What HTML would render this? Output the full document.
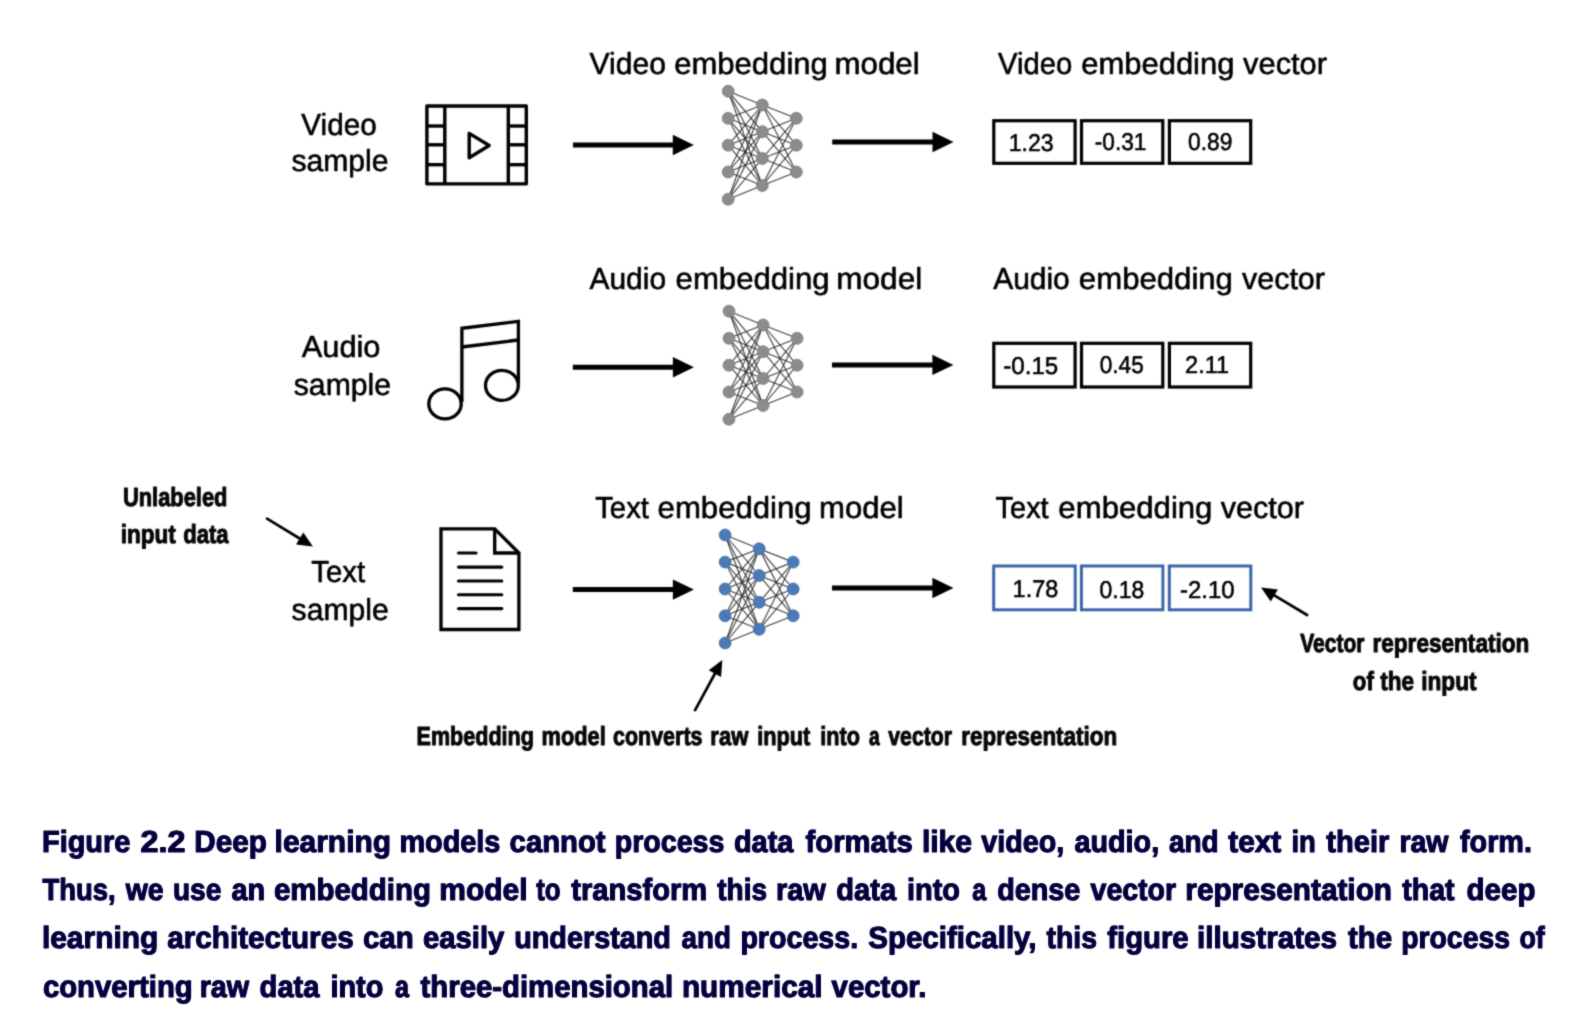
<!DOCTYPE html>
<html><head><meta charset="utf-8"><title>Figure 2.2</title>
<style>html,body{margin:0;padding:0;background:#fff;}body{width:1578px;height:1018px;overflow:hidden;font-family:"Liberation Sans",sans-serif;}svg{display:block;will-change:transform}text{text-rendering:geometricPrecision}</style>
</head><body>
<svg width="1578" height="1018" viewBox="0 0 1578 1018" font-family="Liberation Sans, sans-serif">
<rect width="1578" height="1018" fill="#fff"/>
<defs><filter id="b1" x="0" y="0" width="1578" height="780" filterUnits="userSpaceOnUse" color-interpolation-filters="sRGB"><feConvolveMatrix order="5" kernelMatrix="0.00001 0.00062 0.00227 0.00062 0.00001 0.00062 0.03065 0.11253 0.03065 0.00062 0.00227 0.11253 0.41321 0.11253 0.00227 0.00062 0.03065 0.11253 0.03065 0.00062 0.00001 0.00062 0.00227 0.00062 0.00001" edgeMode="duplicate"/></filter><filter id="b2" x="0" y="780" width="1578" height="238" filterUnits="userSpaceOnUse" color-interpolation-filters="sRGB"><feConvolveMatrix order="5" kernelMatrix="0.00000 0.00013 0.00070 0.00013 0.00000 0.00013 0.01910 0.09973 0.01910 0.00013 0.00070 0.09973 0.52080 0.09973 0.00070 0.00013 0.01910 0.09973 0.01910 0.00013 0.00000 0.00013 0.00070 0.00013 0.00000" edgeMode="duplicate"/></filter></defs>
<g filter="url(#b1)">
<text x="589.60" y="74" font-size="30.4" font-weight="400" fill="#000" textLength="76.39" lengthAdjust="spacingAndGlyphs" stroke="#000" stroke-width="0.6" stroke-linejoin="round">Video</text>
<text x="674.18" y="74" font-size="30.4" font-weight="400" fill="#000" textLength="153.67" lengthAdjust="spacingAndGlyphs" stroke="#000" stroke-width="0.6" stroke-linejoin="round">embedding</text>
<text x="834.44" y="74" font-size="30.4" font-weight="400" fill="#000" textLength="85.26" lengthAdjust="spacingAndGlyphs" stroke="#000" stroke-width="0.6" stroke-linejoin="round">model</text>
<text x="998.10" y="74" font-size="30.4" font-weight="400" fill="#000" textLength="74.17" lengthAdjust="spacingAndGlyphs" stroke="#000" stroke-width="0.6" stroke-linejoin="round">Video</text>
<text x="1081.28" y="74" font-size="30.4" font-weight="400" fill="#000" textLength="153.16" lengthAdjust="spacingAndGlyphs" stroke="#000" stroke-width="0.6" stroke-linejoin="round">embedding</text>
<text x="1243.10" y="74" font-size="30.4" font-weight="400" fill="#000" textLength="83.92" lengthAdjust="spacingAndGlyphs" stroke="#000" stroke-width="0.6" stroke-linejoin="round">vector</text>
<text x="301.30" y="135" font-size="30.4" font-weight="400" fill="#000" textLength="75.38" lengthAdjust="spacingAndGlyphs" stroke="#000" stroke-width="0.6" stroke-linejoin="round">Video</text>
<text x="291.40" y="171" font-size="30.4" font-weight="400" fill="#000" textLength="97.09" lengthAdjust="spacingAndGlyphs" stroke="#000" stroke-width="0.6" stroke-linejoin="round">sample</text>
<g fill="none" stroke="#000" stroke-width="3.4" stroke-linejoin="round" transform="translate(0.2,0.4)">
<rect x="426.7" y="105.6" width="99.4" height="77.9"/>
<line x1="444.6" y1="105.6" x2="444.6" y2="183.5"/>
<line x1="508.1" y1="105.6" x2="508.1" y2="183.5"/>
<line x1="426.7" y1="125.6" x2="444.6" y2="125.6"/>
<line x1="508.1" y1="125.6" x2="526.1" y2="125.6"/>
<line x1="426.7" y1="144.4" x2="444.6" y2="144.4"/>
<line x1="508.1" y1="144.4" x2="526.1" y2="144.4"/>
<line x1="426.7" y1="164.3" x2="444.6" y2="164.3"/>
<line x1="508.1" y1="164.3" x2="526.1" y2="164.3"/>
<polygon points="469,133 469,157.3 489,145.1"/>
</g>
<line x1="573" y1="145" x2="673.8" y2="145" stroke="#000" stroke-width="5"/>
<polygon points="672.8,134.8 693.8,145 672.8,155.2" fill="#000"/>
<g transform="translate(0,0)">
<g stroke="#222" stroke-width="1.15" stroke-opacity="0.85">
<line x1="728.2" y1="91.2" x2="762.3" y2="105.0"/>
<line x1="728.2" y1="91.2" x2="762.3" y2="131.7"/>
<line x1="728.2" y1="91.2" x2="762.3" y2="158.5"/>
<line x1="728.2" y1="91.2" x2="762.3" y2="185.5"/>
<line x1="728.2" y1="118.3" x2="762.3" y2="105.0"/>
<line x1="728.2" y1="118.3" x2="762.3" y2="131.7"/>
<line x1="728.2" y1="118.3" x2="762.3" y2="158.5"/>
<line x1="728.2" y1="118.3" x2="762.3" y2="185.5"/>
<line x1="728.2" y1="145.2" x2="762.3" y2="105.0"/>
<line x1="728.2" y1="145.2" x2="762.3" y2="131.7"/>
<line x1="728.2" y1="145.2" x2="762.3" y2="158.5"/>
<line x1="728.2" y1="145.2" x2="762.3" y2="185.5"/>
<line x1="728.2" y1="172.0" x2="762.3" y2="105.0"/>
<line x1="728.2" y1="172.0" x2="762.3" y2="131.7"/>
<line x1="728.2" y1="172.0" x2="762.3" y2="158.5"/>
<line x1="728.2" y1="172.0" x2="762.3" y2="185.5"/>
<line x1="728.2" y1="199.2" x2="762.3" y2="105.0"/>
<line x1="728.2" y1="199.2" x2="762.3" y2="131.7"/>
<line x1="728.2" y1="199.2" x2="762.3" y2="158.5"/>
<line x1="728.2" y1="199.2" x2="762.3" y2="185.5"/>
<line x1="762.3" y1="105.0" x2="796.3" y2="118.3"/>
<line x1="762.3" y1="105.0" x2="796.3" y2="145.2"/>
<line x1="762.3" y1="105.0" x2="796.3" y2="172.0"/>
<line x1="762.3" y1="131.7" x2="796.3" y2="118.3"/>
<line x1="762.3" y1="131.7" x2="796.3" y2="145.2"/>
<line x1="762.3" y1="131.7" x2="796.3" y2="172.0"/>
<line x1="762.3" y1="158.5" x2="796.3" y2="118.3"/>
<line x1="762.3" y1="158.5" x2="796.3" y2="145.2"/>
<line x1="762.3" y1="158.5" x2="796.3" y2="172.0"/>
<line x1="762.3" y1="185.5" x2="796.3" y2="118.3"/>
<line x1="762.3" y1="185.5" x2="796.3" y2="145.2"/>
<line x1="762.3" y1="185.5" x2="796.3" y2="172.0"/>
</g>
<circle cx="728.2" cy="91.2" r="5.95" fill="#8c8c8c" stroke="#7a7a7a" stroke-width="0.8"/>
<circle cx="728.2" cy="118.3" r="5.95" fill="#8c8c8c" stroke="#7a7a7a" stroke-width="0.8"/>
<circle cx="728.2" cy="145.2" r="5.95" fill="#8c8c8c" stroke="#7a7a7a" stroke-width="0.8"/>
<circle cx="728.2" cy="172.0" r="5.95" fill="#8c8c8c" stroke="#7a7a7a" stroke-width="0.8"/>
<circle cx="728.2" cy="199.2" r="5.95" fill="#8c8c8c" stroke="#7a7a7a" stroke-width="0.8"/>
<circle cx="762.3" cy="105.0" r="5.95" fill="#8c8c8c" stroke="#7a7a7a" stroke-width="0.8"/>
<circle cx="762.3" cy="131.7" r="5.95" fill="#8c8c8c" stroke="#7a7a7a" stroke-width="0.8"/>
<circle cx="762.3" cy="158.5" r="5.95" fill="#8c8c8c" stroke="#7a7a7a" stroke-width="0.8"/>
<circle cx="762.3" cy="185.5" r="5.95" fill="#8c8c8c" stroke="#7a7a7a" stroke-width="0.8"/>
<circle cx="796.3" cy="118.3" r="5.95" fill="#8c8c8c" stroke="#7a7a7a" stroke-width="0.8"/>
<circle cx="796.3" cy="145.2" r="5.95" fill="#8c8c8c" stroke="#7a7a7a" stroke-width="0.8"/>
<circle cx="796.3" cy="172.0" r="5.95" fill="#8c8c8c" stroke="#7a7a7a" stroke-width="0.8"/>
</g>
<line x1="832.2" y1="142" x2="933.5" y2="142" stroke="#000" stroke-width="5"/>
<polygon points="932.5,131.8 953.5,142 932.5,152.2" fill="#000"/>
<rect x="993.80" y="120.70" width="81.30" height="42.60" fill="#fff" stroke="#000" stroke-width="3.2"/>
<rect x="1081.50" y="120.70" width="81.30" height="42.60" fill="#fff" stroke="#000" stroke-width="3.2"/>
<rect x="1169.40" y="120.70" width="81.30" height="42.60" fill="#fff" stroke="#000" stroke-width="3.2"/>
<text x="1008.72" y="151" font-size="24.2" font-weight="400" fill="#000" textLength="44.94" lengthAdjust="spacingAndGlyphs" stroke="#000" stroke-width="0.55" stroke-linejoin="round">1.23</text>
<text x="1094.74" y="149.7" font-size="24.2" font-weight="400" fill="#000" textLength="51.71" lengthAdjust="spacingAndGlyphs" stroke="#000" stroke-width="0.55" stroke-linejoin="round">-0.31</text>
<text x="1187.98" y="149.7" font-size="24.2" font-weight="400" fill="#000" textLength="44.38" lengthAdjust="spacingAndGlyphs" stroke="#000" stroke-width="0.55" stroke-linejoin="round">0.89</text>
<text x="589.50" y="289" font-size="30.4" font-weight="400" fill="#000" textLength="76.59" lengthAdjust="spacingAndGlyphs" stroke="#000" stroke-width="0.6" stroke-linejoin="round">Audio</text>
<text x="675.58" y="289" font-size="30.4" font-weight="400" fill="#000" textLength="154.07" lengthAdjust="spacingAndGlyphs" stroke="#000" stroke-width="0.6" stroke-linejoin="round">embedding</text>
<text x="836.32" y="289" font-size="30.4" font-weight="400" fill="#000" textLength="85.89" lengthAdjust="spacingAndGlyphs" stroke="#000" stroke-width="0.6" stroke-linejoin="round">model</text>
<text x="993.20" y="289" font-size="30.4" font-weight="400" fill="#000" textLength="76.59" lengthAdjust="spacingAndGlyphs" stroke="#000" stroke-width="0.6" stroke-linejoin="round">Audio</text>
<text x="1078.88" y="289" font-size="30.4" font-weight="400" fill="#000" textLength="154.07" lengthAdjust="spacingAndGlyphs" stroke="#000" stroke-width="0.6" stroke-linejoin="round">embedding</text>
<text x="1241.90" y="289" font-size="30.4" font-weight="400" fill="#000" textLength="83.12" lengthAdjust="spacingAndGlyphs" stroke="#000" stroke-width="0.6" stroke-linejoin="round">vector</text>
<text x="301.80" y="357" font-size="30.4" font-weight="400" fill="#000" textLength="78.61" lengthAdjust="spacingAndGlyphs" stroke="#000" stroke-width="0.6" stroke-linejoin="round">Audio</text>
<text x="293.80" y="395" font-size="30.4" font-weight="400" fill="#000" textLength="97.19" lengthAdjust="spacingAndGlyphs" stroke="#000" stroke-width="0.6" stroke-linejoin="round">sample</text>
<g fill="none" stroke="#000" stroke-width="3.3" stroke-linejoin="miter">
<polyline points="461.9,402 461.9,328.3 518.4,321.3 518.4,383.5"/>
<line x1="461.9" y1="347" x2="518.4" y2="340"/>
<ellipse cx="445.0" cy="403.9" rx="16.2" ry="15"/>
<ellipse cx="501.9" cy="385.4" rx="16.4" ry="15"/>
</g>
<line x1="572.8" y1="367.3" x2="673.9" y2="367.3" stroke="#000" stroke-width="5"/>
<polygon points="672.9,357.1 693.9,367.3 672.9,377.5" fill="#000"/>
<g transform="translate(0.8,220)">
<g stroke="#222" stroke-width="1.15" stroke-opacity="0.85">
<line x1="728.2" y1="91.2" x2="762.3" y2="105.0"/>
<line x1="728.2" y1="91.2" x2="762.3" y2="131.7"/>
<line x1="728.2" y1="91.2" x2="762.3" y2="158.5"/>
<line x1="728.2" y1="91.2" x2="762.3" y2="185.5"/>
<line x1="728.2" y1="118.3" x2="762.3" y2="105.0"/>
<line x1="728.2" y1="118.3" x2="762.3" y2="131.7"/>
<line x1="728.2" y1="118.3" x2="762.3" y2="158.5"/>
<line x1="728.2" y1="118.3" x2="762.3" y2="185.5"/>
<line x1="728.2" y1="145.2" x2="762.3" y2="105.0"/>
<line x1="728.2" y1="145.2" x2="762.3" y2="131.7"/>
<line x1="728.2" y1="145.2" x2="762.3" y2="158.5"/>
<line x1="728.2" y1="145.2" x2="762.3" y2="185.5"/>
<line x1="728.2" y1="172.0" x2="762.3" y2="105.0"/>
<line x1="728.2" y1="172.0" x2="762.3" y2="131.7"/>
<line x1="728.2" y1="172.0" x2="762.3" y2="158.5"/>
<line x1="728.2" y1="172.0" x2="762.3" y2="185.5"/>
<line x1="728.2" y1="199.2" x2="762.3" y2="105.0"/>
<line x1="728.2" y1="199.2" x2="762.3" y2="131.7"/>
<line x1="728.2" y1="199.2" x2="762.3" y2="158.5"/>
<line x1="728.2" y1="199.2" x2="762.3" y2="185.5"/>
<line x1="762.3" y1="105.0" x2="796.3" y2="118.3"/>
<line x1="762.3" y1="105.0" x2="796.3" y2="145.2"/>
<line x1="762.3" y1="105.0" x2="796.3" y2="172.0"/>
<line x1="762.3" y1="131.7" x2="796.3" y2="118.3"/>
<line x1="762.3" y1="131.7" x2="796.3" y2="145.2"/>
<line x1="762.3" y1="131.7" x2="796.3" y2="172.0"/>
<line x1="762.3" y1="158.5" x2="796.3" y2="118.3"/>
<line x1="762.3" y1="158.5" x2="796.3" y2="145.2"/>
<line x1="762.3" y1="158.5" x2="796.3" y2="172.0"/>
<line x1="762.3" y1="185.5" x2="796.3" y2="118.3"/>
<line x1="762.3" y1="185.5" x2="796.3" y2="145.2"/>
<line x1="762.3" y1="185.5" x2="796.3" y2="172.0"/>
</g>
<circle cx="728.2" cy="91.2" r="5.95" fill="#8c8c8c" stroke="#7a7a7a" stroke-width="0.8"/>
<circle cx="728.2" cy="118.3" r="5.95" fill="#8c8c8c" stroke="#7a7a7a" stroke-width="0.8"/>
<circle cx="728.2" cy="145.2" r="5.95" fill="#8c8c8c" stroke="#7a7a7a" stroke-width="0.8"/>
<circle cx="728.2" cy="172.0" r="5.95" fill="#8c8c8c" stroke="#7a7a7a" stroke-width="0.8"/>
<circle cx="728.2" cy="199.2" r="5.95" fill="#8c8c8c" stroke="#7a7a7a" stroke-width="0.8"/>
<circle cx="762.3" cy="105.0" r="5.95" fill="#8c8c8c" stroke="#7a7a7a" stroke-width="0.8"/>
<circle cx="762.3" cy="131.7" r="5.95" fill="#8c8c8c" stroke="#7a7a7a" stroke-width="0.8"/>
<circle cx="762.3" cy="158.5" r="5.95" fill="#8c8c8c" stroke="#7a7a7a" stroke-width="0.8"/>
<circle cx="762.3" cy="185.5" r="5.95" fill="#8c8c8c" stroke="#7a7a7a" stroke-width="0.8"/>
<circle cx="796.3" cy="118.3" r="5.95" fill="#8c8c8c" stroke="#7a7a7a" stroke-width="0.8"/>
<circle cx="796.3" cy="145.2" r="5.95" fill="#8c8c8c" stroke="#7a7a7a" stroke-width="0.8"/>
<circle cx="796.3" cy="172.0" r="5.95" fill="#8c8c8c" stroke="#7a7a7a" stroke-width="0.8"/>
</g>
<line x1="832" y1="364.9" x2="933.4" y2="364.9" stroke="#000" stroke-width="5"/>
<polygon points="932.4,354.7 953.4,364.9 932.4,375.09999999999997" fill="#000"/>
<rect x="993.80" y="343.30" width="81.30" height="43.70" fill="#fff" stroke="#000" stroke-width="3.2"/>
<rect x="1081.50" y="343.30" width="81.30" height="43.70" fill="#fff" stroke="#000" stroke-width="3.2"/>
<rect x="1169.40" y="343.30" width="81.30" height="43.70" fill="#fff" stroke="#000" stroke-width="3.2"/>
<text x="1003.18" y="374.1" font-size="24.2" font-weight="400" fill="#000" textLength="55.10" lengthAdjust="spacingAndGlyphs" stroke="#000" stroke-width="0.55" stroke-linejoin="round">-0.15</text>
<text x="1099.78" y="373.2" font-size="24.2" font-weight="400" fill="#000" textLength="43.97" lengthAdjust="spacingAndGlyphs" stroke="#000" stroke-width="0.55" stroke-linejoin="round">0.45</text>
<text x="1185.10" y="373.2" font-size="24.2" font-weight="400" fill="#000" textLength="44.06" lengthAdjust="spacingAndGlyphs" stroke="#000" stroke-width="0.55" stroke-linejoin="round">2.11</text>
<text x="595.20" y="518" font-size="30.4" font-weight="400" fill="#000" textLength="53.76" lengthAdjust="spacingAndGlyphs" stroke="#000" stroke-width="0.6" stroke-linejoin="round">Text</text>
<text x="657.58" y="518" font-size="30.4" font-weight="400" fill="#000" textLength="154.07" lengthAdjust="spacingAndGlyphs" stroke="#000" stroke-width="0.6" stroke-linejoin="round">embedding</text>
<text x="819.05" y="518" font-size="30.4" font-weight="400" fill="#000" textLength="84.64" lengthAdjust="spacingAndGlyphs" stroke="#000" stroke-width="0.6" stroke-linejoin="round">model</text>
<text x="995.60" y="518" font-size="30.4" font-weight="400" fill="#000" textLength="53.07" lengthAdjust="spacingAndGlyphs" stroke="#000" stroke-width="0.6" stroke-linejoin="round">Text</text>
<text x="1058.38" y="518" font-size="30.4" font-weight="400" fill="#000" textLength="154.07" lengthAdjust="spacingAndGlyphs" stroke="#000" stroke-width="0.6" stroke-linejoin="round">embedding</text>
<text x="1220.70" y="518" font-size="30.4" font-weight="400" fill="#000" textLength="83.32" lengthAdjust="spacingAndGlyphs" stroke="#000" stroke-width="0.6" stroke-linejoin="round">vector</text>
<text x="311.30" y="582" font-size="30.4" font-weight="400" fill="#000" textLength="53.86" lengthAdjust="spacingAndGlyphs" stroke="#000" stroke-width="0.6" stroke-linejoin="round">Text</text>
<text x="291.60" y="620" font-size="30.4" font-weight="400" fill="#000" textLength="97.09" lengthAdjust="spacingAndGlyphs" stroke="#000" stroke-width="0.6" stroke-linejoin="round">sample</text>
<g fill="none" stroke="#000" stroke-width="3.3" stroke-linejoin="miter">
<polygon points="441,528.8 494.7,528.8 518.9,553 518.9,629.5 441,629.5"/>
<polyline points="494.7,528.8 494.7,553 518.9,553"/>
</g>
<g fill="none" stroke="#000" stroke-width="3.1" stroke-linecap="round">
<line x1="458.5" y1="553" x2="476" y2="553"/>
<line x1="458.5" y1="567.1" x2="501.8" y2="567.1"/>
<line x1="458.5" y1="581" x2="501.8" y2="581"/>
<line x1="458.5" y1="594.8" x2="501.8" y2="594.8"/>
<line x1="458.5" y1="608.6" x2="501.8" y2="608.6"/>
</g>
<line x1="572.8" y1="589.6" x2="673.9" y2="589.6" stroke="#000" stroke-width="5"/>
<polygon points="672.9,579.4 693.9,589.6 672.9,599.8000000000001" fill="#000"/>
<g transform="translate(-3.1,443.8)">
<g stroke="#222" stroke-width="1.15" stroke-opacity="0.85">
<line x1="728.2" y1="91.2" x2="762.3" y2="105.0"/>
<line x1="728.2" y1="91.2" x2="762.3" y2="131.7"/>
<line x1="728.2" y1="91.2" x2="762.3" y2="158.5"/>
<line x1="728.2" y1="91.2" x2="762.3" y2="185.5"/>
<line x1="728.2" y1="118.3" x2="762.3" y2="105.0"/>
<line x1="728.2" y1="118.3" x2="762.3" y2="131.7"/>
<line x1="728.2" y1="118.3" x2="762.3" y2="158.5"/>
<line x1="728.2" y1="118.3" x2="762.3" y2="185.5"/>
<line x1="728.2" y1="145.2" x2="762.3" y2="105.0"/>
<line x1="728.2" y1="145.2" x2="762.3" y2="131.7"/>
<line x1="728.2" y1="145.2" x2="762.3" y2="158.5"/>
<line x1="728.2" y1="145.2" x2="762.3" y2="185.5"/>
<line x1="728.2" y1="172.0" x2="762.3" y2="105.0"/>
<line x1="728.2" y1="172.0" x2="762.3" y2="131.7"/>
<line x1="728.2" y1="172.0" x2="762.3" y2="158.5"/>
<line x1="728.2" y1="172.0" x2="762.3" y2="185.5"/>
<line x1="728.2" y1="199.2" x2="762.3" y2="105.0"/>
<line x1="728.2" y1="199.2" x2="762.3" y2="131.7"/>
<line x1="728.2" y1="199.2" x2="762.3" y2="158.5"/>
<line x1="728.2" y1="199.2" x2="762.3" y2="185.5"/>
<line x1="762.3" y1="105.0" x2="796.3" y2="118.3"/>
<line x1="762.3" y1="105.0" x2="796.3" y2="145.2"/>
<line x1="762.3" y1="105.0" x2="796.3" y2="172.0"/>
<line x1="762.3" y1="131.7" x2="796.3" y2="118.3"/>
<line x1="762.3" y1="131.7" x2="796.3" y2="145.2"/>
<line x1="762.3" y1="131.7" x2="796.3" y2="172.0"/>
<line x1="762.3" y1="158.5" x2="796.3" y2="118.3"/>
<line x1="762.3" y1="158.5" x2="796.3" y2="145.2"/>
<line x1="762.3" y1="158.5" x2="796.3" y2="172.0"/>
<line x1="762.3" y1="185.5" x2="796.3" y2="118.3"/>
<line x1="762.3" y1="185.5" x2="796.3" y2="145.2"/>
<line x1="762.3" y1="185.5" x2="796.3" y2="172.0"/>
</g>
<circle cx="728.2" cy="91.2" r="5.95" fill="#4a7ab8" stroke="#3f6ca6" stroke-width="0.8"/>
<circle cx="728.2" cy="118.3" r="5.95" fill="#4a7ab8" stroke="#3f6ca6" stroke-width="0.8"/>
<circle cx="728.2" cy="145.2" r="5.95" fill="#4a7ab8" stroke="#3f6ca6" stroke-width="0.8"/>
<circle cx="728.2" cy="172.0" r="5.95" fill="#4a7ab8" stroke="#3f6ca6" stroke-width="0.8"/>
<circle cx="728.2" cy="199.2" r="5.95" fill="#4a7ab8" stroke="#3f6ca6" stroke-width="0.8"/>
<circle cx="762.3" cy="105.0" r="5.95" fill="#4a7ab8" stroke="#3f6ca6" stroke-width="0.8"/>
<circle cx="762.3" cy="131.7" r="5.95" fill="#4a7ab8" stroke="#3f6ca6" stroke-width="0.8"/>
<circle cx="762.3" cy="158.5" r="5.95" fill="#4a7ab8" stroke="#3f6ca6" stroke-width="0.8"/>
<circle cx="762.3" cy="185.5" r="5.95" fill="#4a7ab8" stroke="#3f6ca6" stroke-width="0.8"/>
<circle cx="796.3" cy="118.3" r="5.95" fill="#4a7ab8" stroke="#3f6ca6" stroke-width="0.8"/>
<circle cx="796.3" cy="145.2" r="5.95" fill="#4a7ab8" stroke="#3f6ca6" stroke-width="0.8"/>
<circle cx="796.3" cy="172.0" r="5.95" fill="#4a7ab8" stroke="#3f6ca6" stroke-width="0.8"/>
</g>
<line x1="832" y1="588" x2="933.4" y2="588" stroke="#000" stroke-width="5"/>
<polygon points="932.4,577.8 953.4,588 932.4,598.2" fill="#000"/>
<rect x="993.70" y="566.00" width="81.50" height="43.80" fill="#fff" stroke="#3a67a8" stroke-width="3.0"/>
<rect x="1081.40" y="566.00" width="81.50" height="43.80" fill="#fff" stroke="#3a67a8" stroke-width="3.0"/>
<rect x="1169.30" y="566.00" width="81.50" height="43.80" fill="#fff" stroke="#3a67a8" stroke-width="3.0"/>
<text x="1012.61" y="597.2" font-size="24.2" font-weight="400" fill="#000" textLength="45.66" lengthAdjust="spacingAndGlyphs" stroke="#000" stroke-width="0.55" stroke-linejoin="round">1.78</text>
<text x="1099.58" y="597.7" font-size="24.2" font-weight="400" fill="#000" textLength="44.68" lengthAdjust="spacingAndGlyphs" stroke="#000" stroke-width="0.55" stroke-linejoin="round">0.18</text>
<text x="1179.98" y="597.7" font-size="24.2" font-weight="400" fill="#000" textLength="54.59" lengthAdjust="spacingAndGlyphs" stroke="#000" stroke-width="0.55" stroke-linejoin="round">-2.10</text>
<text x="122.97" y="505.5" font-size="26.2" font-weight="700" fill="#06060a" textLength="104.47" lengthAdjust="spacingAndGlyphs" stroke="#06060a" stroke-width="1.0" stroke-linejoin="round">Unlabeled</text>
<text x="120.74" y="543.1" font-size="26.2" font-weight="700" fill="#06060a" textLength="55.02" lengthAdjust="spacingAndGlyphs" stroke="#06060a" stroke-width="1.0" stroke-linejoin="round">input</text>
<text x="183.26" y="543.1" font-size="26.2" font-weight="700" fill="#06060a" textLength="45.38" lengthAdjust="spacingAndGlyphs" stroke="#06060a" stroke-width="1.0" stroke-linejoin="round">data</text>
<line x1="267.00" y1="518.70" x2="300.50" y2="538.99" stroke="#000" stroke-width="2.7" stroke-linecap="round"/>
<polygon points="296.02,544.46 312.90,546.50 303.27,532.48" fill="#000"/>
<text x="1300.30" y="652.1" font-size="26.2" font-weight="700" fill="#06060a" textLength="64.05" lengthAdjust="spacingAndGlyphs" stroke="#06060a" stroke-width="1.0" stroke-linejoin="round">Vector</text>
<text x="1372.44" y="652.1" font-size="26.2" font-weight="700" fill="#06060a" textLength="156.92" lengthAdjust="spacingAndGlyphs" stroke="#06060a" stroke-width="1.0" stroke-linejoin="round">representation</text>
<text x="1352.85" y="689.6" font-size="26.2" font-weight="700" fill="#06060a" textLength="20.91" lengthAdjust="spacingAndGlyphs" stroke="#06060a" stroke-width="1.0" stroke-linejoin="round">of</text>
<text x="1380.20" y="689.6" font-size="26.2" font-weight="700" fill="#06060a" textLength="33.79" lengthAdjust="spacingAndGlyphs" stroke="#06060a" stroke-width="1.0" stroke-linejoin="round">the</text>
<text x="1421.23" y="689.6" font-size="26.2" font-weight="700" fill="#06060a" textLength="55.42" lengthAdjust="spacingAndGlyphs" stroke="#06060a" stroke-width="1.0" stroke-linejoin="round">input</text>
<line x1="1307.10" y1="615.00" x2="1273.45" y2="594.93" stroke="#000" stroke-width="2.7" stroke-linecap="round"/>
<polygon points="1277.90,589.43 1261.00,587.50 1270.73,601.45" fill="#000"/>
<text x="416.58" y="744.5" font-size="26.2" font-weight="700" fill="#06060a" textLength="117.34" lengthAdjust="spacingAndGlyphs" stroke="#06060a" stroke-width="1.0" stroke-linejoin="round">Embedding</text>
<text x="541.57" y="744.5" font-size="26.2" font-weight="700" fill="#06060a" textLength="64.19" lengthAdjust="spacingAndGlyphs" stroke="#06060a" stroke-width="1.0" stroke-linejoin="round">model</text>
<text x="613.08" y="744.5" font-size="26.2" font-weight="700" fill="#06060a" textLength="89.38" lengthAdjust="spacingAndGlyphs" stroke="#06060a" stroke-width="1.0" stroke-linejoin="round">converts</text>
<text x="710.36" y="744.5" font-size="26.2" font-weight="700" fill="#06060a" textLength="38.01" lengthAdjust="spacingAndGlyphs" stroke="#06060a" stroke-width="1.0" stroke-linejoin="round">raw</text>
<text x="757.27" y="744.5" font-size="26.2" font-weight="700" fill="#06060a" textLength="53.10" lengthAdjust="spacingAndGlyphs" stroke="#06060a" stroke-width="1.0" stroke-linejoin="round">input</text>
<text x="820.17" y="744.5" font-size="26.2" font-weight="700" fill="#06060a" textLength="39.75" lengthAdjust="spacingAndGlyphs" stroke="#06060a" stroke-width="1.0" stroke-linejoin="round">into</text>
<text x="869.00" y="744.5" font-size="26.2" font-weight="700" fill="#06060a" textLength="10.68" lengthAdjust="spacingAndGlyphs" stroke="#06060a" stroke-width="1.0" stroke-linejoin="round">a</text>
<text x="888.30" y="744.5" font-size="26.2" font-weight="700" fill="#06060a" textLength="63.65" lengthAdjust="spacingAndGlyphs" stroke="#06060a" stroke-width="1.0" stroke-linejoin="round">vector</text>
<text x="961.24" y="744.5" font-size="26.2" font-weight="700" fill="#06060a" textLength="156.01" lengthAdjust="spacingAndGlyphs" stroke="#06060a" stroke-width="1.0" stroke-linejoin="round">representation</text>
<line x1="695.10" y1="710.20" x2="715.39" y2="672.75" stroke="#000" stroke-width="2.7" stroke-linecap="round"/>
<polygon points="721.07,676.96 722.30,660.00 708.76,670.29" fill="#000"/>
</g>
<g filter="url(#b2)">
<text x="41.98" y="852" font-size="30.5" font-weight="700" fill="#04003f" textLength="88.36" lengthAdjust="spacingAndGlyphs" stroke="#04003f" stroke-width="1.15" stroke-linejoin="round">Figure</text>
<text x="140.52" y="852" font-size="30.5" font-weight="700" fill="#04003f" textLength="44.93" lengthAdjust="spacingAndGlyphs" stroke="#04003f" stroke-width="1.15" stroke-linejoin="round">2.2</text>
<text x="194.33" y="852" font-size="30.5" font-weight="700" fill="#04003f" textLength="72.40" lengthAdjust="spacingAndGlyphs" stroke="#04003f" stroke-width="1.15" stroke-linejoin="round">Deep</text>
<text x="274.61" y="852" font-size="30.5" font-weight="700" fill="#04003f" textLength="116.41" lengthAdjust="spacingAndGlyphs" stroke="#04003f" stroke-width="1.15" stroke-linejoin="round">learning</text>
<text x="399.38" y="852" font-size="30.5" font-weight="700" fill="#04003f" textLength="100.95" lengthAdjust="spacingAndGlyphs" stroke="#04003f" stroke-width="1.15" stroke-linejoin="round">models</text>
<text x="509.62" y="852" font-size="30.5" font-weight="700" fill="#04003f" textLength="95.96" lengthAdjust="spacingAndGlyphs" stroke="#04003f" stroke-width="1.15" stroke-linejoin="round">cannot</text>
<text x="614.70" y="852" font-size="30.5" font-weight="700" fill="#04003f" textLength="109.63" lengthAdjust="spacingAndGlyphs" stroke="#04003f" stroke-width="1.15" stroke-linejoin="round">process</text>
<text x="733.93" y="852" font-size="30.5" font-weight="700" fill="#04003f" textLength="59.51" lengthAdjust="spacingAndGlyphs" stroke="#04003f" stroke-width="1.15" stroke-linejoin="round">data</text>
<text x="805.58" y="852" font-size="30.5" font-weight="700" fill="#04003f" textLength="107.07" lengthAdjust="spacingAndGlyphs" stroke="#04003f" stroke-width="1.15" stroke-linejoin="round">formats</text>
<text x="921.90" y="852" font-size="30.5" font-weight="700" fill="#04003f" textLength="50.17" lengthAdjust="spacingAndGlyphs" stroke="#04003f" stroke-width="1.15" stroke-linejoin="round">like</text>
<text x="981.28" y="852" font-size="30.5" font-weight="700" fill="#04003f" textLength="82.84" lengthAdjust="spacingAndGlyphs" stroke="#04003f" stroke-width="1.15" stroke-linejoin="round">video,</text>
<text x="1074.58" y="852" font-size="30.5" font-weight="700" fill="#04003f" textLength="84.54" lengthAdjust="spacingAndGlyphs" stroke="#04003f" stroke-width="1.15" stroke-linejoin="round">audio,</text>
<text x="1168.88" y="852" font-size="30.5" font-weight="700" fill="#04003f" textLength="49.75" lengthAdjust="spacingAndGlyphs" stroke="#04003f" stroke-width="1.15" stroke-linejoin="round">and</text>
<text x="1228.28" y="852" font-size="30.5" font-weight="700" fill="#04003f" textLength="53.00" lengthAdjust="spacingAndGlyphs" stroke="#04003f" stroke-width="1.15" stroke-linejoin="round">text</text>
<text x="1291.47" y="852" font-size="30.5" font-weight="700" fill="#04003f" textLength="24.42" lengthAdjust="spacingAndGlyphs" stroke="#04003f" stroke-width="1.15" stroke-linejoin="round">in</text>
<text x="1326.28" y="852" font-size="30.5" font-weight="700" fill="#04003f" textLength="63.03" lengthAdjust="spacingAndGlyphs" stroke="#04003f" stroke-width="1.15" stroke-linejoin="round">their</text>
<text x="1399.41" y="852" font-size="30.5" font-weight="700" fill="#04003f" textLength="49.06" lengthAdjust="spacingAndGlyphs" stroke="#04003f" stroke-width="1.15" stroke-linejoin="round">raw</text>
<text x="1459.98" y="852" font-size="30.5" font-weight="700" fill="#04003f" textLength="71.94" lengthAdjust="spacingAndGlyphs" stroke="#04003f" stroke-width="1.15" stroke-linejoin="round">form.</text>
<text x="42.58" y="900" font-size="30.5" font-weight="700" fill="#04003f" textLength="73.18" lengthAdjust="spacingAndGlyphs" stroke="#04003f" stroke-width="1.15" stroke-linejoin="round">Thus,</text>
<text x="125.80" y="900" font-size="30.5" font-weight="700" fill="#04003f" textLength="37.82" lengthAdjust="spacingAndGlyphs" stroke="#04003f" stroke-width="1.15" stroke-linejoin="round">we</text>
<text x="172.95" y="900" font-size="30.5" font-weight="700" fill="#04003f" textLength="48.36" lengthAdjust="spacingAndGlyphs" stroke="#04003f" stroke-width="1.15" stroke-linejoin="round">use</text>
<text x="231.57" y="900" font-size="30.5" font-weight="700" fill="#04003f" textLength="33.69" lengthAdjust="spacingAndGlyphs" stroke="#04003f" stroke-width="1.15" stroke-linejoin="round">an</text>
<text x="273.91" y="900" font-size="30.5" font-weight="700" fill="#04003f" textLength="157.09" lengthAdjust="spacingAndGlyphs" stroke="#04003f" stroke-width="1.15" stroke-linejoin="round">embedding</text>
<text x="439.31" y="900" font-size="30.5" font-weight="700" fill="#04003f" textLength="88.26" lengthAdjust="spacingAndGlyphs" stroke="#04003f" stroke-width="1.15" stroke-linejoin="round">model</text>
<text x="536.28" y="900" font-size="30.5" font-weight="700" fill="#04003f" textLength="24.38" lengthAdjust="spacingAndGlyphs" stroke="#04003f" stroke-width="1.15" stroke-linejoin="round">to</text>
<text x="571.28" y="900" font-size="30.5" font-weight="700" fill="#04003f" textLength="135.92" lengthAdjust="spacingAndGlyphs" stroke="#04003f" stroke-width="1.15" stroke-linejoin="round">transform</text>
<text x="717.28" y="900" font-size="30.5" font-weight="700" fill="#04003f" textLength="49.73" lengthAdjust="spacingAndGlyphs" stroke="#04003f" stroke-width="1.15" stroke-linejoin="round">this</text>
<text x="775.98" y="900" font-size="30.5" font-weight="700" fill="#04003f" textLength="49.89" lengthAdjust="spacingAndGlyphs" stroke="#04003f" stroke-width="1.15" stroke-linejoin="round">raw</text>
<text x="836.32" y="900" font-size="30.5" font-weight="700" fill="#04003f" textLength="59.81" lengthAdjust="spacingAndGlyphs" stroke="#04003f" stroke-width="1.15" stroke-linejoin="round">data</text>
<text x="906.98" y="900" font-size="30.5" font-weight="700" fill="#04003f" textLength="53.05" lengthAdjust="spacingAndGlyphs" stroke="#04003f" stroke-width="1.15" stroke-linejoin="round">into</text>
<text x="972.28" y="900" font-size="30.5" font-weight="700" fill="#04003f" textLength="13.99" lengthAdjust="spacingAndGlyphs" stroke="#04003f" stroke-width="1.15" stroke-linejoin="round">a</text>
<text x="997.13" y="900" font-size="30.5" font-weight="700" fill="#04003f" textLength="83.20" lengthAdjust="spacingAndGlyphs" stroke="#04003f" stroke-width="1.15" stroke-linejoin="round">dense</text>
<text x="1090.58" y="900" font-size="30.5" font-weight="700" fill="#04003f" textLength="85.43" lengthAdjust="spacingAndGlyphs" stroke="#04003f" stroke-width="1.15" stroke-linejoin="round">vector</text>
<text x="1185.32" y="900" font-size="30.5" font-weight="700" fill="#04003f" textLength="206.69" lengthAdjust="spacingAndGlyphs" stroke="#04003f" stroke-width="1.15" stroke-linejoin="round">representation</text>
<text x="1402.28" y="900" font-size="30.5" font-weight="700" fill="#04003f" textLength="52.30" lengthAdjust="spacingAndGlyphs" stroke="#04003f" stroke-width="1.15" stroke-linejoin="round">that</text>
<text x="1466.61" y="900" font-size="30.5" font-weight="700" fill="#04003f" textLength="68.83" lengthAdjust="spacingAndGlyphs" stroke="#04003f" stroke-width="1.15" stroke-linejoin="round">deep</text>
<text x="41.91" y="948" font-size="30.5" font-weight="700" fill="#04003f" textLength="116.41" lengthAdjust="spacingAndGlyphs" stroke="#04003f" stroke-width="1.15" stroke-linejoin="round">learning</text>
<text x="167.27" y="948" font-size="30.5" font-weight="700" fill="#04003f" textLength="186.39" lengthAdjust="spacingAndGlyphs" stroke="#04003f" stroke-width="1.15" stroke-linejoin="round">architectures</text>
<text x="362.91" y="948" font-size="30.5" font-weight="700" fill="#04003f" textLength="50.79" lengthAdjust="spacingAndGlyphs" stroke="#04003f" stroke-width="1.15" stroke-linejoin="round">can</text>
<text x="422.91" y="948" font-size="30.5" font-weight="700" fill="#04003f" textLength="81.47" lengthAdjust="spacingAndGlyphs" stroke="#04003f" stroke-width="1.15" stroke-linejoin="round">easily</text>
<text x="514.13" y="948" font-size="30.5" font-weight="700" fill="#04003f" textLength="156.83" lengthAdjust="spacingAndGlyphs" stroke="#04003f" stroke-width="1.15" stroke-linejoin="round">understand</text>
<text x="681.58" y="948" font-size="30.5" font-weight="700" fill="#04003f" textLength="49.33" lengthAdjust="spacingAndGlyphs" stroke="#04003f" stroke-width="1.15" stroke-linejoin="round">and</text>
<text x="740.40" y="948" font-size="30.5" font-weight="700" fill="#04003f" textLength="117.71" lengthAdjust="spacingAndGlyphs" stroke="#04003f" stroke-width="1.15" stroke-linejoin="round">process.</text>
<text x="868.28" y="948" font-size="30.5" font-weight="700" fill="#04003f" textLength="168.27" lengthAdjust="spacingAndGlyphs" stroke="#04003f" stroke-width="1.15" stroke-linejoin="round">Specifically,</text>
<text x="1046.58" y="948" font-size="30.5" font-weight="700" fill="#04003f" textLength="50.45" lengthAdjust="spacingAndGlyphs" stroke="#04003f" stroke-width="1.15" stroke-linejoin="round">this</text>
<text x="1107.28" y="948" font-size="30.5" font-weight="700" fill="#04003f" textLength="81.37" lengthAdjust="spacingAndGlyphs" stroke="#04003f" stroke-width="1.15" stroke-linejoin="round">figure</text>
<text x="1196.93" y="948" font-size="30.5" font-weight="700" fill="#04003f" textLength="140.13" lengthAdjust="spacingAndGlyphs" stroke="#04003f" stroke-width="1.15" stroke-linejoin="round">illustrates</text>
<text x="1347.88" y="948" font-size="30.5" font-weight="700" fill="#04003f" textLength="44.18" lengthAdjust="spacingAndGlyphs" stroke="#04003f" stroke-width="1.15" stroke-linejoin="round">the</text>
<text x="1401.22" y="948" font-size="30.5" font-weight="700" fill="#04003f" textLength="108.70" lengthAdjust="spacingAndGlyphs" stroke="#04003f" stroke-width="1.15" stroke-linejoin="round">process</text>
<text x="1519.39" y="948" font-size="30.5" font-weight="700" fill="#04003f" textLength="25.39" lengthAdjust="spacingAndGlyphs" stroke="#04003f" stroke-width="1.15" stroke-linejoin="round">of</text>
<text x="42.91" y="997" font-size="30.5" font-weight="700" fill="#04003f" textLength="149.78" lengthAdjust="spacingAndGlyphs" stroke="#04003f" stroke-width="1.15" stroke-linejoin="round">converting</text>
<text x="199.69" y="997" font-size="30.5" font-weight="700" fill="#04003f" textLength="49.47" lengthAdjust="spacingAndGlyphs" stroke="#04003f" stroke-width="1.15" stroke-linejoin="round">raw</text>
<text x="259.62" y="997" font-size="30.5" font-weight="700" fill="#04003f" textLength="59.81" lengthAdjust="spacingAndGlyphs" stroke="#04003f" stroke-width="1.15" stroke-linejoin="round">data</text>
<text x="330.38" y="997" font-size="30.5" font-weight="700" fill="#04003f" textLength="52.94" lengthAdjust="spacingAndGlyphs" stroke="#04003f" stroke-width="1.15" stroke-linejoin="round">into</text>
<text x="395.07" y="997" font-size="30.5" font-weight="700" fill="#04003f" textLength="13.99" lengthAdjust="spacingAndGlyphs" stroke="#04003f" stroke-width="1.15" stroke-linejoin="round">a</text>
<text x="420.57" y="997" font-size="30.5" font-weight="700" fill="#04003f" textLength="252.57" lengthAdjust="spacingAndGlyphs" stroke="#04003f" stroke-width="1.15" stroke-linejoin="round">three-dimensional</text>
<text x="681.92" y="997" font-size="30.5" font-weight="700" fill="#04003f" textLength="140.64" lengthAdjust="spacingAndGlyphs" stroke="#04003f" stroke-width="1.15" stroke-linejoin="round">numerical</text>
<text x="831.58" y="997" font-size="30.5" font-weight="700" fill="#04003f" textLength="94.77" lengthAdjust="spacingAndGlyphs" stroke="#04003f" stroke-width="1.15" stroke-linejoin="round">vector.</text>
</g>
</svg>
</body></html>
